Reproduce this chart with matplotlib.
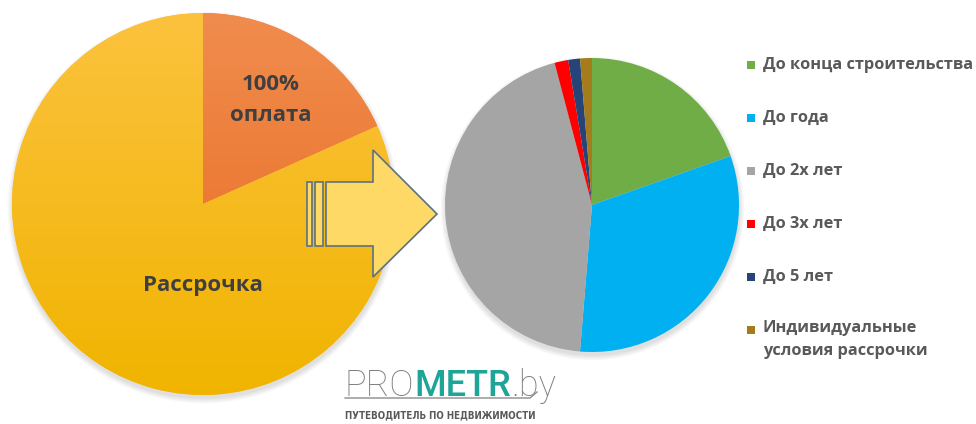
import numpy as np
import matplotlib.pyplot as plt
from matplotlib.patches import Polygon, Rectangle, Circle
from matplotlib.colors import LinearSegmentedColormap

W, H = 976, 424

# общая структура оплаты
split_labels = ['100%\nоплата', 'Рассрочка']
split_values = [18.3, 81.7]
split_top = ['#F08C4E', '#FCC23E']
split_bottom = ['#E8691C', '#F0B400']

# сроки рассрочки
term_labels = ['До конца строительства', 'До года', 'До 2х лет', 'До 3х лет',
               'До 5 лет', 'Индивидуальные\nусловия рассрочки']
term_values = [19.6, 31.7, 44.6, 1.5, 1.3, 1.3]
term_colors = ['#70AD47', '#00B0F0', '#A5A5A5', '#FF0000', '#264478', '#A57C1B']

fig = plt.figure(figsize=(W / 100, H / 100), dpi=100)
ax = fig.add_axes([0, 0, 1, 1])


def soft_shadow(cx, cy, r, z):
    # мягкая тень под кругом
    for k in range(8):
        ax.add_patch(Circle((cx + 0.5, cy - 3.5), r + 0.7 * k, color='#808080',
                            alpha=0.03, lw=0, zorder=z))


# левая диаграмма
lcx, lcy, lr = 203, H - 204, 191
soft_shadow(lcx, lcy, lr, 0.5)
wedges_l, _ = ax.pie(split_values, center=(lcx, lcy), radius=lr, startangle=90,
                     counterclock=False, colors=split_top,
                     wedgeprops=dict(linewidth=0, zorder=1))
grad = np.linspace(0, 1, 256).reshape(-1, 1)
for w, c1, c2 in zip(wedges_l, split_top, split_bottom):
    cm = LinearSegmentedColormap.from_list('g', [c1, c2])
    im = ax.imshow(grad, extent=(lcx - lr, lcx + lr, lcy - lr, lcy + lr),
                   origin='upper', cmap=cm, aspect='auto', zorder=1.1)
    im.set_clip_path(w)

mid = np.deg2rad(90 - split_values[0] * 3.6 / 2)
ax.text(lcx + 0.65 * lr * np.cos(mid), lcy + 0.65 * lr * np.sin(mid), split_labels[0],
        ha='center', va='center', fontsize=16, weight='bold', family='Open Sans',
        color='#3F3F3F', linespacing=1.65, zorder=5)
ax.text(lcx, lcy - 81, split_labels[1], ha='center', va='center', fontsize=16,
        weight='bold', family='Open Sans', color='#3F3F3F', zorder=5)

# правая диаграмма
rcx, rcy, rr = 592, H - 205, 147
soft_shadow(rcx, rcy, rr, 1.5)
wedges_r, _ = ax.pie(term_values, center=(rcx, rcy), radius=rr, startangle=90,
                     counterclock=False, colors=term_colors,
                     wedgeprops=dict(linewidth=0, zorder=2))

# стрелка
arrow_pts = [(326, 182), (373, 182), (373, 150), (437, 214), (373, 277),
             (373, 246), (326, 246)]
ax.add_patch(Polygon([(x, H - y) for x, y in arrow_pts], closed=True,
                     facecolor='#FFD966', edgecolor='#5B7282', lw=1.2, zorder=3))
for x0, wd in [(307, 5), (315, 8)]:
    ax.add_patch(Rectangle((x0, H - 246), wd, 64, facecolor='#FFD966',
                           edgecolor='#5B7282', lw=1.2, zorder=3))

# легенда
row_y = [65, 118, 171, 224, 277, 330]
for lab, col, y in zip(term_labels, term_colors, row_y):
    ax.add_patch(Rectangle((747, H - y - 4), 8, 8, facecolor=col, lw=0, zorder=4))
    if '\n' in lab:
        ax.text(763, H - y + 10, lab, ha='left', va='top', fontsize=11.8,
                weight='bold', family='Open Sans', color='#595959',
                linespacing=1.6, zorder=4)
    else:
        ax.text(763, H - y, lab, ha='left', va='center', fontsize=11.8,
                weight='bold', family='Open Sans', color='#595959', zorder=4)

# логотип
t1 = ax.text(345, H - 396, 'PRO', fontsize=26, family='Roboto', weight='light',
             color='#7F7F7F', va='baseline', zorder=6)
t2 = ax.annotate('METR', xy=(1, 0), xycoords=t1, va='bottom', ha='left',
                 fontsize=26, family='Roboto', weight='medium', color='#1FA597', zorder=6)
ax.annotate('.by', xy=(1, 0), xycoords=t2, va='bottom', ha='left',
            fontsize=26, family='Roboto', weight='light', color='#7F7F7F', zorder=6)
ax.plot([345, 530, 537], [H - 398, H - 398, H - 392], color='#8C8C8C', lw=1, zorder=6)
ax.text(345, H - 415, 'ПУТЕВОДИТЕЛЬ ПО НЕДВИЖИМОСТИ', fontsize=7,
        family='DejaVu Sans', fontstretch='condensed', weight='bold',
        color='#595959', va='center', zorder=6)

ax.set_xlim(0, W)
ax.set_ylim(0, H)
ax.set_aspect('equal')
ax.axis('off')

fig.savefig('out.png', dpi=100)
